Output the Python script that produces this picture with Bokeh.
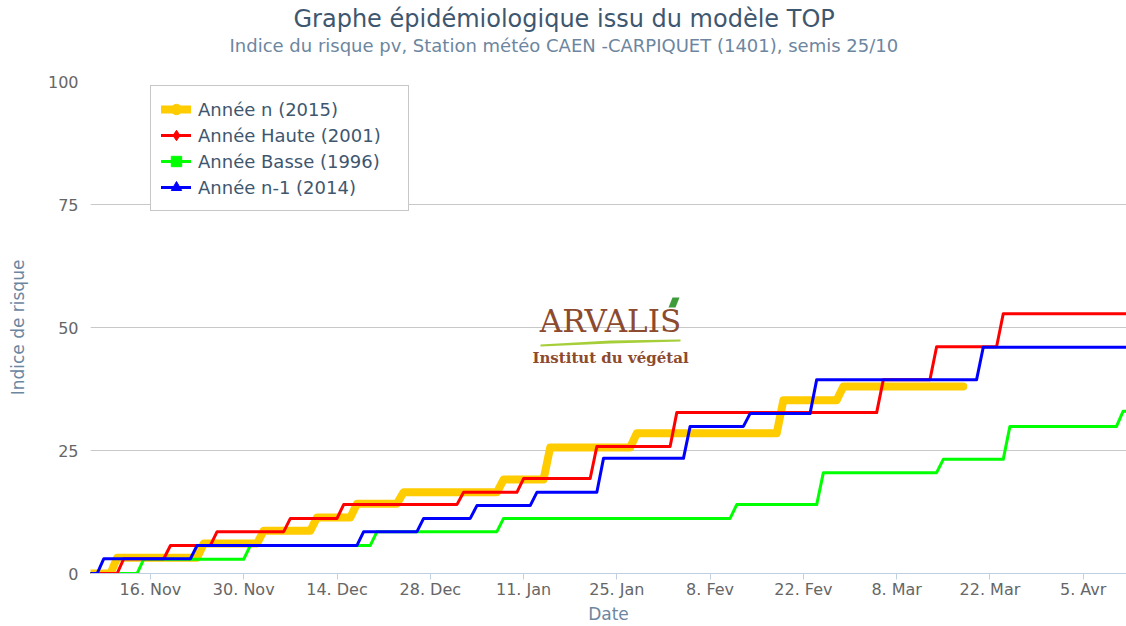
import pandas as pd
from bokeh.plotting import figure
from bokeh.models import (Range1d, FixedTicker, Label, Legend, LegendItem, Title,
                          PolyAnnotation, ColumnDataSource)
from bokeh.embed import file_html
from bokeh.resources import INLINE

FONT = "DejaVu Sans"

# ---------------- data ----------------
series_names = ["Année n (2015)", "Année Haute (2001)", "Année Basse (1996)", "Année n-1 (2014)"]
series_colors = ["#FFCC00", "#FF0000", "#00FF00", "#0000FF"]
series_markers = ["circle", "diamond", "square", "triangle"]

yellow_dates = ["2014-11-07", "2014-11-11", "2014-11-24", "2014-12-03", "2014-12-11", "2014-12-17",
                "2014-12-24", "2015-01-08", "2015-01-15", "2015-01-28", "2015-02-19", "2015-02-28"]
yellow_values = [0, 3.2, 6.1, 8.7, 11.4, 14.2, 16.5, 19.1, 25.6, 28.5, 35.2, 38.0]
yellow_end = "2015-03-18"

red_dates = ["2014-11-07", "2014-11-12", "2014-11-19", "2014-11-26", "2014-12-07", "2014-12-15",
             "2015-01-02", "2015-01-11", "2015-01-22", "2015-02-03", "2015-03-06", "2015-03-14",
             "2015-03-24"]
red_values = [0, 3.0, 5.7, 8.5, 11.2, 14.0, 16.5, 19.3, 25.8, 32.7, 39.4, 46.1, 52.8]
red_end = "2015-04-15"

green_dates = ["2014-11-07", "2014-11-15", "2014-12-01", "2014-12-20", "2015-01-08", "2015-02-12",
               "2015-02-25", "2015-03-15", "2015-03-25", "2015-04-11"]
green_values = [0, 2.9, 5.7, 8.5, 11.2, 14.0, 20.5, 23.2, 29.9, 33.0]
green_end = "2015-04-15"

blue_dates = ["2014-11-07", "2014-11-09", "2014-11-23", "2014-12-18", "2014-12-27", "2015-01-04",
              "2015-01-13", "2015-01-23", "2015-02-05", "2015-02-14", "2015-02-24", "2015-03-21"]
blue_values = [0, 3.0, 5.7, 8.5, 11.2, 13.8, 16.5, 23.4, 29.9, 32.5, 39.4, 46.0]
blue_end = "2015-04-15"

tick_dates = ["2014-11-16", "2014-11-30", "2014-12-14", "2014-12-28", "2015-01-11", "2015-01-25",
              "2015-02-08", "2015-02-22", "2015-03-08", "2015-03-22", "2015-04-05"]
tick_labels = ["16. Nov", "30. Nov", "14. Dec", "28. Dec", "11. Jan", "25. Jan",
               "8. Fev", "22. Fev", "8. Mar", "22. Mar", "5. Avr"]
y_ticks = [0, 25, 50, 75, 100]

x_start = "2014-11-07"
x_days_visible = 155.5


def step_points(dates, vals, end):
    d = pd.to_datetime(dates)
    xs, ys = [d[0]], [vals[0]]
    for i in range(1, len(d)):
        xs.append(d[i] - pd.Timedelta(days=1))
        ys.append(vals[i - 1])
        xs.append(d[i])
        ys.append(vals[i])
    xs.append(pd.to_datetime(end))
    ys.append(vals[-1])
    return xs, ys


x0 = pd.Timestamp(x_start)
x1 = x0 + pd.Timedelta(hours=x_days_visible * 24)

p = figure(width=1126, height=626, x_axis_type="datetime", output_backend="svg",
           toolbar_location=None, x_range=Range1d(x0, x1), y_range=Range1d(0, 100),
           min_border_left=90, min_border_right=0, min_border_top=81, min_border_bottom=53)
p.outline_line_color = None
p.background_fill_color = "white"
p.border_fill_color = "white"

# axes
ms = [int(pd.Timestamp(d).value // 10**6) for d in tick_dates]
p.xaxis.ticker = FixedTicker(ticks=ms)
p.xaxis.major_label_overrides = {m: l for m, l in zip(ms, tick_labels)}
p.xaxis.axis_line_color = "#C0D0E0"
p.xaxis.major_tick_line_color = "#C0D0E0"
p.xaxis.major_tick_out = 6
p.xaxis.major_tick_in = 0
p.xaxis.minor_tick_line_color = None
p.xaxis.major_label_standoff = 0
p.xaxis.major_label_text_font = FONT
p.xaxis.major_label_text_font_size = "16px"
p.xaxis.major_label_text_color = "#666666"
p.xaxis.axis_label = "Date"
p.xaxis.axis_label_text_font = FONT
p.xaxis.axis_label_text_font_size = "17px"
p.xaxis.axis_label_text_font_style = "normal"
p.xaxis.axis_label_text_color = "#6D869F"
p.xaxis.axis_label_standoff = 2

p.yaxis.ticker = FixedTicker(ticks=y_ticks)
p.yaxis.axis_line_color = None
p.yaxis.major_tick_line_color = None
p.yaxis.minor_tick_line_color = None
p.yaxis.major_tick_out = 0
p.yaxis.major_label_standoff = 12
p.yaxis.major_label_text_font = FONT
p.yaxis.major_label_text_font_size = "16px"
p.yaxis.major_label_text_color = "#666666"
p.yaxis.axis_label = "Indice de risque"
p.yaxis.axis_label_text_font = FONT
p.yaxis.axis_label_text_font_size = "17px"
p.yaxis.axis_label_text_font_style = "normal"
p.yaxis.axis_label_text_color = "#6D869F"
p.yaxis.axis_label_standoff = 17

p.xgrid.grid_line_color = None
p.ygrid.grid_line_color = "#C8C8C8"
p.ygrid.grid_line_width = 1

# ---------------- titles (spacer nearest the frame, then subtitle, then title) ----------------
p.add_layout(Title(text=" ", text_font=FONT, text_font_size="1px", standoff=23), "above")
p.add_layout(Title(text="Indice du risque pv, Station météo CAEN -CARPIQUET (1401), semis 25/10",
                   align="left", offset=139, text_font=FONT, text_font_size="18px",
                   text_font_style="normal", text_color="#6D869F", standoff=0), "above")
p.add_layout(Title(text="Graphe épidémiologique issu du modèle TOP",
                   align="left", offset=203, text_font=FONT, text_font_size="24px",
                   text_font_style="normal", text_color="#3E576F", standoff=0), "above")

# ---------------- logo (watermark) ----------------
p.add_layout(Label(x=520, y=253, x_units="screen", y_units="screen", text="ARVALIS",
                   text_font="DejaVu Serif", text_font_size="31px", text_color="#8C4A2F",
                   text_align="center", text_baseline="middle"))
p.add_layout(Label(x=520, y=216, x_units="screen", y_units="screen", text="Institut du végétal",
                   text_font="DejaVu Serif", text_font_size="15px", text_color="#8C4A2F",
                   text_font_style="bold", text_align="center", text_baseline="middle"))
p.add_layout(PolyAnnotation(xs=[450, 520, 590, 590, 520, 450], ys=[229, 233, 234, 232, 230, 227],
                            xs_units="screen", ys_units="screen", fill_color="#A6CE39",
                            fill_alpha=1, line_color=None))
p.add_layout(PolyAnnotation(xs=[578, 582, 589, 585], ys=[266, 276, 276, 266],
                            xs_units="screen", ys_units="screen", fill_color="#3E9B3A",
                            fill_alpha=1, line_color=None))

# ---------------- series ----------------
all_series = [
    (yellow_dates, yellow_values, yellow_end, 8),
    (red_dates, red_values, red_end, 3),
    (green_dates, green_values, green_end, 3),
    (blue_dates, blue_values, blue_end, 3),
]
draw_order = [0, 2, 1, 3]
line_renderers = {}
sources = {}
for i in draw_order:
    dates, vals, end, lw = all_series[i]
    xs, ys = step_points(dates, vals, end)
    sources[i] = ColumnDataSource(data=dict(x=xs, y=ys))
    line_renderers[i] = p.line("x", "y", source=sources[i], line_color=series_colors[i],
                               line_width=lw, line_join="round", line_cap="round")

items = []
for i, name in enumerate(series_names):
    # zero-size markers: invisible on the chart, drawn only as legend symbols
    mr = p.scatter("x", "y", source=sources[i], marker=series_markers[i],
                   fill_color=series_colors[i], line_color=series_colors[i], size=0)
    items.append(LegendItem(label=name, renderers=[line_renderers[i], mr]))

legend = Legend(items=items, location=(60, 362), orientation="vertical",
                label_text_font=FONT, label_text_font_size="18px", label_text_color="#3E576F",
                glyph_width=30, glyph_height=26, label_height=26, label_width=200,
                spacing=0, padding=10, label_standoff=7, border_line_color="#909090",
                border_line_width=1, background_fill_color="white", background_fill_alpha=1,
                margin=0)
p.add_layout(legend)

open("out.html", "w").write(file_html(p, INLINE))
